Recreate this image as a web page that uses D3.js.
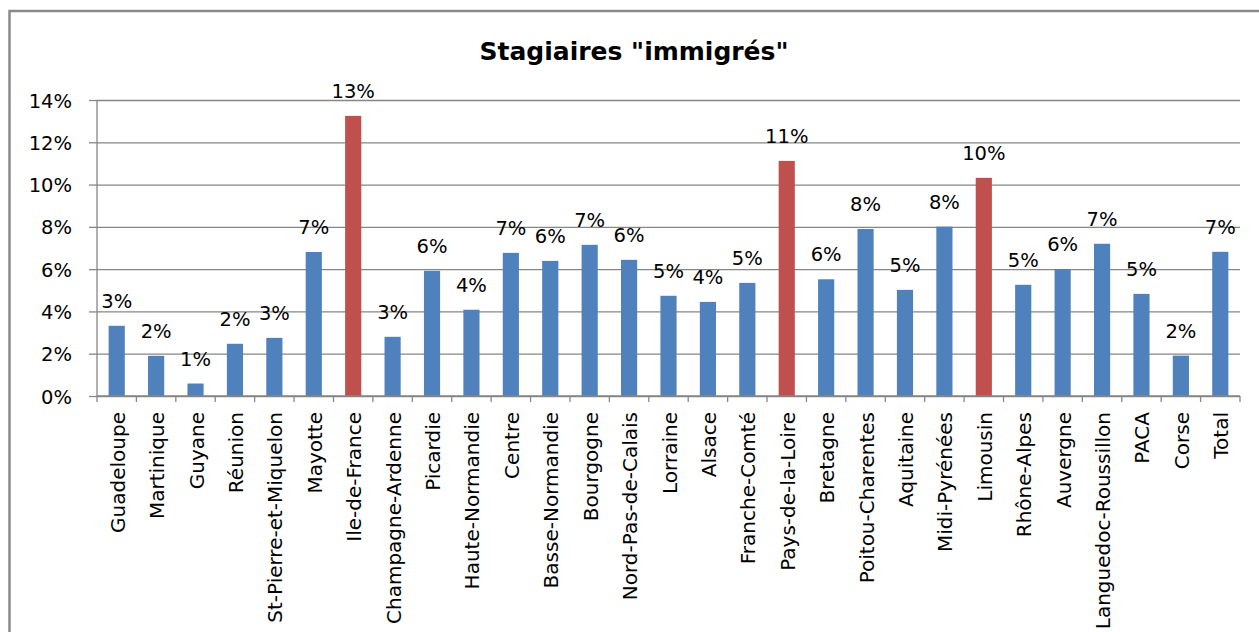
<!DOCTYPE html>
<html>
<head>
<meta charset="utf-8">
<script src="https://cdn.jsdelivr.net/npm/d3@7"></script>
<style>
  body { margin: 0; background: #fff; }
  svg text { font-family: "DejaVu Sans", sans-serif; fill: #000; }
</style>
</head>
<body>
<svg id="chart"></svg>
<script>
// Chart size
const width = 1259;
const height = 632;

// Data
const regions = [
    "Guadeloupe", "Martinique", "Guyane", "Réunion", "St-Pierre-et-Miquelon",
    "Mayotte", "Ile-de-France", "Champagne-Ardenne", "Picardie", "Haute-Normandie",
    "Centre", "Basse-Normandie", "Bourgogne", "Nord-Pas-de-Calais", "Lorraine",
    "Alsace", "Franche-Comté", "Pays-de-la-Loire", "Bretagne", "Poitou-Charentes",
    "Aquitaine", "Midi-Pyrénées", "Limousin", "Rhône-Alpes", "Auvergne",
    "Languedoc-Roussillon", "PACA", "Corse", "Total"
];
const shares = [
    3.32, 1.90, 0.59, 2.47, 2.75,
    6.81, 13.25, 2.80, 5.92, 4.08,
    6.77, 6.39, 7.15, 6.44, 4.74,
    4.45, 5.35, 11.12, 5.52, 7.90,
    5.02, 8.01, 10.32, 5.26, 6.00,
    7.20, 4.83, 1.91, 6.82
];
// regions shown in red
const highlighted = ["Ile-de-France", "Pays-de-la-Loire", "Limousin"];
const yTicks = [0, 2, 4, 6, 8, 10, 12, 14];
const title = "Stagiaires \"immigrés\"";

const data = regions.map((r, i) => ({ name: r, value: shares[i] }));

// Plot area
const margin = { top: 100, right: 19, bottom: 236, left: 97 };
const plotW = width - margin.left - margin.right;
const plotH = height - margin.top - margin.bottom;

const svg = d3.select("#chart")
    .attr("width", width)
    .attr("height", height);

// Outer frame (only top and left edges are visible)
svg.append("rect")
    .attr("x", 9.5)
    .attr("y", 11)
    .attr("width", width + 20)
    .attr("height", height + 20)
    .style("fill", "none")
    .style("stroke", "#8a8a8a")
    .style("stroke-width", 2.5);

// Title
svg.append("text")
    .attr("x", 634)
    .attr("y", 60)
    .attr("text-anchor", "middle")
    .style("font-size", "25px")
    .style("font-weight", "bold")
    .text(title);

const g = svg.append("g")
    .attr("transform", `translate(${margin.left},${margin.top})`);

const x = d3.scaleBand()
    .domain(regions)
    .range([0, plotW])
    .padding(0);

const y = d3.scaleLinear()
    .domain([0, 14])
    .range([plotH, 0]);

// Horizontal gridlines
g.append("g")
    .attr("class", "grid")
    .call(d3.axisLeft(y).tickValues(yTicks).tickSize(-plotW).tickFormat(""))
    .call(s => s.select(".domain").remove())
    .call(s => s.selectAll("line").style("stroke", "#868686").style("stroke-width", 1.3));

// Y axis with outward ticks and labels
g.append("g")
    .call(d3.axisLeft(y).tickValues(yTicks).tickSize(8).tickPadding(17).tickFormat(d => d + "%"))
    .call(s => s.select(".domain").attr("d", `M0,${plotH}V0`).style("stroke", "#868686").style("stroke-width", 1.3))
    .call(s => s.selectAll("line").style("stroke", "#868686").style("stroke-width", 1.3))
    .call(s => s.selectAll("text").style("font-size", "19.5px").style("fill", "#000").attr("dy", "0.36em"));

// Bars
const barW = x.bandwidth() * 0.41;
g.selectAll(".bar")
    .data(data)
    .enter().append("rect")
    .attr("class", "bar")
    .attr("x", d => x(d.name) + (x.bandwidth() - barW) / 2)
    .attr("y", d => y(d.value))
    .attr("width", barW)
    .attr("height", d => plotH - y(d.value))
    .style("fill", d => highlighted.includes(d.name) ? "#C0504D" : "#4F81BD");

// Value labels above bars
g.selectAll(".value")
    .data(data)
    .enter().append("text")
    .attr("class", "value")
    .attr("x", d => x(d.name) + x.bandwidth() / 2)
    .attr("y", d => y(d.value) - 18)
    .attr("text-anchor", "middle")
    .style("font-size", "19.5px")
    .text(d => Math.round(d.value) + "%");

// X axis line and ticks at category boundaries
const bounds = regions.map(r => x(r)).concat([plotW]);
const xAxis = g.append("g").attr("transform", `translate(0,${plotH})`);
xAxis.append("line")
    .attr("x1", 0).attr("x2", plotW)
    .style("stroke", "#868686").style("stroke-width", 1.3);
xAxis.selectAll(".btick")
    .data(bounds)
    .enter().append("line")
    .attr("class", "btick")
    .attr("x1", d => d).attr("x2", d => d)
    .attr("y1", 0).attr("y2", 6)
    .style("stroke", "#868686").style("stroke-width", 1.3);

// Rotated category labels
xAxis.selectAll(".cat")
    .data(regions)
    .enter().append("text")
    .attr("class", "cat")
    .attr("text-anchor", "end")
    .attr("transform", d => `translate(${x(d) + x.bandwidth() / 2 + 1},16) rotate(-90)`)
    .attr("dy", "0.35em")
    .style("font-size", "20px")
    .text(d => d);
</script>
</body>
</html>
